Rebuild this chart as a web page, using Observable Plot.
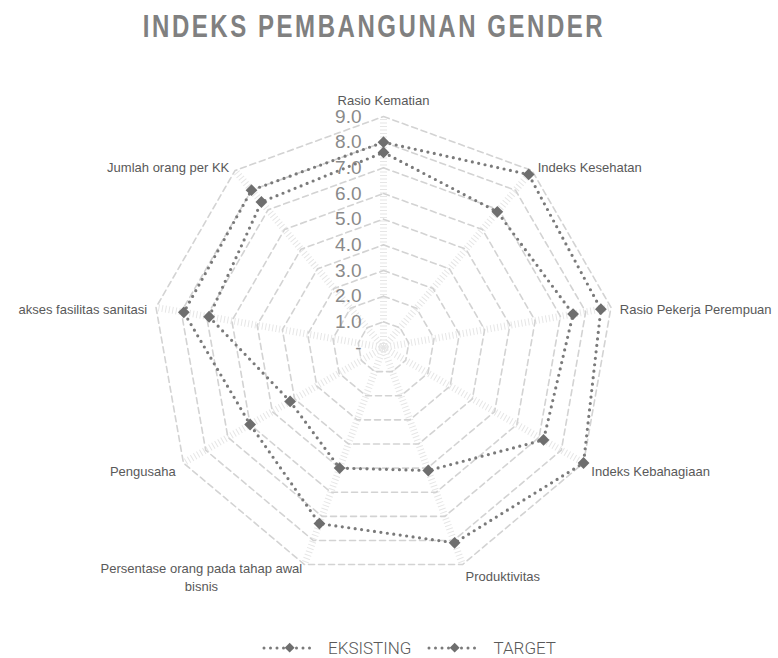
<!DOCTYPE html>
<html>
<head>
<meta charset="utf-8">
<script src="https://cdn.jsdelivr.net/npm/d3@7"></script>
<script src="https://cdn.jsdelivr.net/npm/@observablehq/plot@0.6"></script>
<style>
  html, body { margin: 0; padding: 0; background: #fff; }
  #page { position: relative; width: 778px; height: 658px; overflow: hidden; }
  #title { position: absolute; left: 0; top: 8px; width: 748px; text-align: center;
    font-family: "Liberation Sans", Arial, sans-serif; font-weight: bold;
    font-size: 32px; letter-spacing: 3.4px; color: #808080; line-height: 36px;
    transform: scaleX(0.75); transform-origin: 374px 0; }
  #chart { position: absolute; left: 0; top: 70px; }
  #legend { position: absolute; left: 262px; top: 638px; display: flex; align-items: center;
    font-family: Roboto, "Liberation Sans", sans-serif; font-weight: 300; font-size: 17px; color: #595959; }
  #legend .item { display: flex; align-items: center; margin-right: 16px; }
  #legend svg { margin-right: 10px; }
</style>
</head>
<body>
<div id="page">
  <div id="title">INDEKS PEMBANGUNAN GENDER</div>
  <div id="chart"></div>
  <div id="legend"></div>
</div>
<script>
// ---- data ----
const categories = [
  "Rasio Kematian",
  "Indeks Kesehatan",
  "Rasio Pekerja Perempuan",
  "Indeks Kebahagiaan",
  "Produktivitas",
  "Persentase orang pada tahap awal\nbisnis",
  "Pengusaha",
  "akses fasilitas sanitasi",
  "Jumlah orang per KK"
];
const seriesNames = ["EKSISTING", "TARGET"];
const eksisting = [7.6, 6.9, 7.5, 7.2, 5.1, 5.0, 4.2, 6.9, 7.4];
const target    = [8.0, 8.8, 8.6, 9.0, 8.1, 7.3, 6.0, 7.9, 8.0];
const tickValues = [0, 1, 2, 3, 4, 5, 6, 7, 8, 9];
const tickLabels = ["-", "1.0", "2.0", "3.0", "4.0", "5.0", "6.0", "7.0", "8.0", "9.0"];
const maxValue = 9;

// ---- geometry helpers ----
const n = categories.length;
const angle = i => 2 * Math.PI * i / n;
const px = (v, i) => (v / maxValue) * Math.sin(angle(i));
const py = (v, i) => (v / maxValue) * Math.cos(angle(i));

// grid rings
const rings = [];
tickValues.filter(t => t > 0).forEach(t => {
  for (let i = 0; i <= n; i++) rings.push({ring: t, x: px(t, i % n), y: py(t, i % n)});
});
// spokes
const spokes = categories.map((c, i) => ({x1: 0, y1: 0, x2: px(maxValue, i), y2: py(maxValue, i)}));

// series
const seriesData = [eksisting, target];
const lines = [];
const points = [];
seriesNames.forEach((s, k) => {
  const vals = seriesData[k];
  for (let i = 0; i <= n; i++) {
    lines.push({series: s, x: px(vals[i % n], i % n), y: py(vals[i % n], i % n)});
  }
  vals.forEach((v, i) => points.push({series: s, x: px(v, i), y: py(v, i)}));
});

// labels
const labelR = 9.35;
const labels = categories.map((c, i) => ({text: c, i, x: px(labelR, i), y: py(labelR, i), s: Math.sin(angle(i))}));
const isSpecial = d => d.text.includes("\n");
const labFont = "Liberation Sans, Arial, sans-serif";
const labStyle = {fontSize: 13, fontFamily: labFont, fill: "#595959", lineHeight: 1.45};

const ticksData = tickValues.map((t, k) => ({x: 0, y: t / maxValue, label: tickLabels[k]}));

const cx = 383, cy = 277, R = 231;
const chart = Plot.plot({
  width: 778,
  height: 540,
  margin: 0,
  x: {domain: [-1, 1], range: [cx - R, cx + R], axis: null},
  y: {domain: [-1, 1], range: [cy + R, cy - R], axis: null},
  style: {background: "transparent", overflow: "visible"},
  marks: [
    Plot.link(spokes, {x1: "x1", y1: "y1", x2: "x2", y2: "y2", stroke: "#e6e6e6", strokeWidth: 7, strokeDasharray: "1,2.5"}),
    Plot.line(rings, {x: "x", y: "y", z: "ring", stroke: "#d3d3d3", strokeWidth: 1.6, strokeDasharray: "6,4", curve: "linear"}),
    Plot.text(ticksData, {x: "x", y: "y", text: "label", dx: -22, textAnchor: "end", lineAnchor: "middle",
      fontSize: 19, fontFamily: labFont, fill: "#8a8a8a"}),
    Plot.line(lines, {x: "x", y: "y", z: "series", stroke: "#7a7a7a", strokeWidth: 3.2, strokeDasharray: "0,6.5", strokeLinecap: "round", curve: "linear"}),
    Plot.dot(points, {x: "x", y: "y", symbol: "diamond2", r: 5.3, fill: "#6e6e6e", stroke: "none"}),
    // axis labels
    Plot.text(labels.filter(d => !isSpecial(d) && d.s > 0.1), {x: "x", y: "y", text: "text", textAnchor: "start", lineAnchor: "middle", dy: 2, ...labStyle}),
    Plot.text(labels.filter(d => !isSpecial(d) && d.s < -0.1), {x: "x", y: "y", text: "text", textAnchor: "end", lineAnchor: "middle", dy: 2, ...labStyle}),
    Plot.text(labels.filter(d => !isSpecial(d) && Math.abs(d.s) <= 0.1), {x: "x", y: "y", text: "text", textAnchor: "middle", lineAnchor: "bottom", dy: -3, ...labStyle}),
    Plot.text(labels.filter(isSpecial), {x: "x", y: "y", text: "text", textAnchor: "middle", lineAnchor: "middle", dx: -100, dy: 3, ...labStyle})
  ]
});
document.getElementById("chart").appendChild(chart);

// legend
const legend = document.getElementById("legend");
seriesNames.forEach(s => {
  const item = document.createElement("div");
  item.className = "item";
  item.innerHTML = `<svg width="56" height="14"><line x1="2" y1="7" x2="54" y2="7" stroke="#7a7a7a" stroke-width="3" stroke-dasharray="0,6.5" stroke-linecap="round"/><rect x="24" y="2" width="7" height="7" transform="rotate(45 28 7) translate(0 1.5)" fill="#6e6e6e"/></svg><span>${s}</span>`;
  legend.appendChild(item);
});
</script>
</body>
</html>
